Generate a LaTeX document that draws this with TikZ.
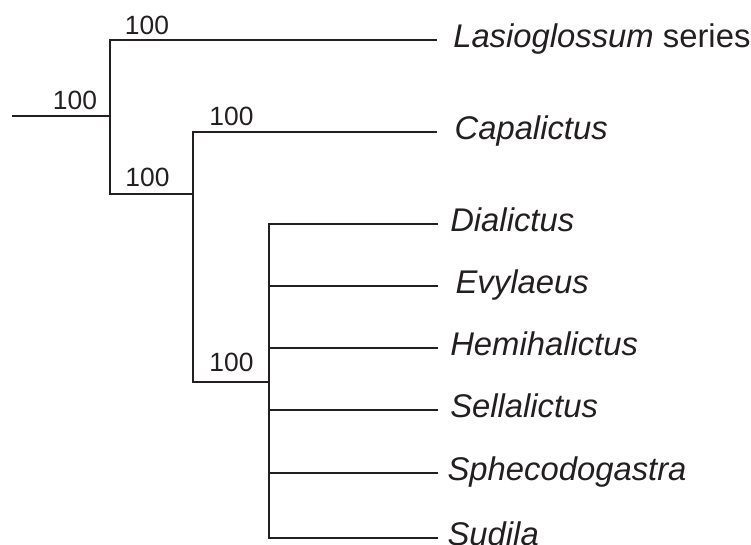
\documentclass[tikz,border=0pt]{standalone}
\usepackage{fontspec}
\setmainfont{Liberation Sans}
\definecolor{treeInk}{HTML}{231F20}
\tikzset{
  branch/.style={draw=treeInk,line width=1.8pt},
  taxon/.style={anchor=base west,inner sep=0pt,xshift=9pt,yshift=-5.25pt,
    text=treeInk,font=\fontsize{24.6}{30}\selectfont\itshape},
  support/.style={anchor=base,inner sep=0pt,text=treeInk,
    font=\fontsize{19.8}{24}\selectfont}
}

\begin{document}
\begin{tikzpicture}[x=0.75pt,y=-0.75pt]
  \useasboundingbox (0,0) rectangle (751,544);
  % internal nodes
  \coordinate (root) at (12,116);
  \coordinate (n1) at (110,116);
  \coordinate (n2) at (193,194);
  \coordinate (n3) at (269,382);
  % leaf tips
  \coordinate (tLas) at (437,40);
  \coordinate (tCap) at (437,132);
  \coordinate (tDia) at (438,224);
  \coordinate (tEvy) at (438,286);
  \coordinate (tHem) at (438,348);
  \coordinate (tSel) at (438,410);
  \coordinate (tSph) at (438,473);
  \coordinate (tSud) at (438,538);
  % branches
  \draw[branch] (root) -- (n1);
  \draw[branch] (tLas) -| (n1) |- (n2);
  \draw[branch] (tCap) -| (n2) |- (n3);
  \draw[branch] (tDia) -| (n3) |- (tSud);
  \foreach \t in {tEvy,tHem,tSel,tSph}
    \draw[branch] (n3 |- \t) -- (\t);
  % taxa
  \node[taxon,xshift=3pt] (las) at (tLas) {Lasioglossum {\upshape series}};
  \node[taxon,xshift=4pt] (cap) at (tCap) {Capalictus};
  \node[taxon] (dia) at (tDia) {Dialictus};
  \node[taxon,xshift=4pt] (evy) at (tEvy) {Evylaeus};
  \node[taxon] (hem) at (tHem) {Hemihalictus};
  \node[taxon] (sel) at (tSel) {Sellalictus};
  \node[taxon,xshift=-2pt] (sph) at (tSph) {Sphecodogastra};
  \node[taxon,xshift=-2pt] (sud) at (tSud) {Sudila};
  % support values
  \node[support] (bRoot) at (75,109) {100};
  \node[support] (bLas) at (147,34) {100};
  \node[support] (bN2) at (147.5,186) {100};
  \node[support] (bCap) at (231.5,125) {100};
  \node[support] (bN3) at (231.5,371) {100};
\end{tikzpicture}
\end{document}
